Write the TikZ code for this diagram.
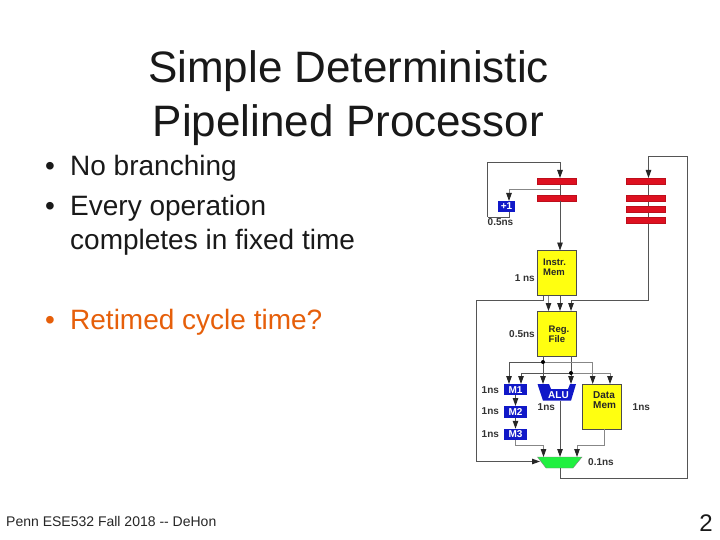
\documentclass[tikz,border=0pt]{standalone}
\usepackage{fontspec}
\setmainfont{Liberation Sans}
\usetikzlibrary{arrows.meta,calc}
\definecolor{redbar}{RGB}{222,16,32}
\definecolor{bluebox}{RGB}{16,24,200}
\definecolor{yellowbox}{RGB}{255,255,16}
\definecolor{greenmux}{RGB}{32,240,64}
\definecolor{wire}{RGB}{85,85,85}
\definecolor{lightwire}{RGB}{135,135,135}
\definecolor{orangetext}{RGB}{230,95,10}
\tikzset{
 x=1pt,y=-1pt,
 barbox/.style={draw=redbar!85!black,line width=.4pt,fill=redbar,minimum width=39pt,minimum height=6pt,inner sep=0,outer sep=0},
 memblock/.style={draw=black!70,line width=.8pt,fill=yellowbox,minimum width=39pt,inner sep=0,outer sep=0},
 bluebx/.style={fill=bluebox,text=white,font=\fontsize{10}{11}\selectfont\bfseries,inner sep=0,outer sep=0},
 wirel/.style={wire,line width=.95pt},
 lwire/.style={lightwire,line width=.85pt},
 arr/.style={-{Triangle[length=8pt,width=5.5pt,color=black!85]}},
 tim/.style={font=\fontsize{10}{11}\selectfont\bfseries,text=black!80,inner sep=0},
 blocktxt/.style={font=\fontsize{9.5}{10}\selectfont\bfseries,align=left,inner sep=0,text=black!85},
 ttl/.style={font=\fontsize{44}{46}\selectfont,inner sep=0,text=black!90},
 bodyt/.style={font=\fontsize{28}{30}\selectfont,inner sep=0,anchor=base west,text=black!90},
 dotj/.style={circle,fill=black,inner sep=0,minimum size=4pt},
}
\begin{document}
\begin{tikzpicture}
\useasboundingbox (0,0) rectangle (720,540);
\fill[white] (0,0) rectangle (720,540);
% text
\node[ttl] (t1) at (348.5,71.5) {Simple Deterministic};
\node[ttl] (t2) at (348.5,125) {Pipelined Processor};
\node[bodyt] (b0) at (45,176) {•};
\node[bodyt] (b1) at (70,176) {No branching};
\node[bodyt] (b2) at (45,215) {•};
\node[bodyt] (b3) at (70,215) {Every operation};
\node[bodyt] (b4) at (70,249) {completes in fixed time};
\node[bodyt,text=orangetext] (b5) at (45,329) {•};
\node[bodyt,text=orangetext] (b6) at (70,329) {Retimed cycle time?};
\node[font=\fontsize{14}{16}\selectfont,anchor=base west,inner sep=0,text=black!85] (foot) at (6,526) {Penn ESE532 Fall 2018 -{}- DeHon};
\node[font=\fontsize{24}{26}\selectfont,anchor=base east,inner sep=0,text=black!90] (pg) at (713,531) {2};
% wires behind bars
\draw[wirel] (560,201) -- (560,184);
\draw[wirel] (648.5,184) -- (648.5,206);
\draw[wirel] (648.5,212) -- (648.5,300) -- (571,300);
% bars
\node[barbox] (l1) at (556.5,181) {};
\node[barbox] (l2) at (556.5,198) {};
\node[barbox] (r1) at (646,181) {};
\node[barbox] (r2) at (646,198) {};
\node[barbox] (r3) at (646,209) {};
\node[barbox] (r4) at (646,220) {};
% blocks
\node[memblock,minimum height=45pt] (imem) at (556.5,273) {};
\node[blocktxt,anchor=north west] (imt) at (543,259) {Instr.\\Mem};
\node[memblock,minimum height=45pt] (reg) at (556.5,333.5) {};
\node[blocktxt,anchor=north west] (rgt) at (548.5,326) {Reg.\\File};
\node[memblock,minimum height=45pt] (dmem) at (601.5,406.5) {};
\node[blocktxt,anchor=north west,font=\fontsize{10}{10}\selectfont\bfseries] (dmt) at (593,391.5) {Data\\Mem};
\node[bluebx,minimum width=17pt,minimum height=11pt] (inc) at (506.5,206.5) {+1};
\node[bluebx,minimum width=23pt,minimum height=11.5pt] (m1) at (515.5,389.7) {M1};
\node[bluebx,minimum width=23pt,minimum height=12pt] (m2) at (515.5,412) {M2};
\node[bluebx,minimum width=23pt,minimum height=11.5pt] (m3) at (515.5,434.5) {M3};
\fill[bluebox] (537.5,384) -- (549,384) -- (551,389) -- (568,389) -- (570,384) -- (576,384) -- (571,400.7) -- (543,400.7) -- cycle;
\node[bluebx,fill=none] (alut) at (558.5,395.5) {ALU};
\coordinate (alub) at (560,400.7);
\fill[greenmux,draw=black!50,line width=.4pt] (537.5,457) -- (582,457) -- (573,468) -- (546,468) -- cycle;
\coordinate (muxt) at (560,457);
\coordinate (muxb) at (560,468);
\coordinate (muxl) at (540,461.5);
% wires
\draw[wirel,arr] (560,201) -- (560,250.5);
\draw[wirel,arr] (487.5,217) -- (487.5,162) -- (560,162) -- (560,178);
\draw[wirel] (487.5,217) -- (509,217) -- (509,212);
\draw[lwire,arr] (560,189) -- (509,189) -- (509,201);
\draw[wirel,arr] (687.5,300) -- (687.5,156) -- (648.5,156) -- (648.5,178);
\draw[wirel] (muxb) -- (560,478.5) -- (687.5,478.5) -- (687.5,300);
\draw[wirel,arr] (543,295.5) -- (543,300) -- (476.5,300) -- (476.5,461.5) -- (muxl);
\draw[lwire,arr] (548.5,295.5) -- (548.5,311);
\draw[wirel,arr] (560,295.5) -- (560,311);
\draw[wirel,arr] (571,300) -- (571,311);
\draw[wirel] (543,356) -- (543,362);
\draw[wirel] (571,356) -- (571,373);
\draw[wirel,arr] (543,362) -- (509,362) -- (509,384);
\draw[lwire,arr] (543,362) -- (592.7,362) -- (592.7,384);
\draw[wirel,arr] (543,362) -- (543,384);
\draw[wirel,arr] (571,373) -- (521,373) -- (521,384);
\draw[lwire,arr] (571,373) -- (610,373) -- (610,384);
\draw[wirel,arr] (571,373) -- (571,384);
\node[dotj] (d1) at (543,362) {};
\node[dotj] (d2) at (571,373) {};
\draw[wirel,arr] (m1) -- (m2);
\draw[wirel,arr] (m2) -- (m3);
\draw[lwire,arr] (515,440) -- (515,445) -- (543.5,445) -- (543.5,457);
\draw[lwire,arr] (604,429) -- (604,445) -- (577,445) -- (577,457);
\draw[wirel,arr] (alub) -- (muxt);
% timing labels
\node[tim,anchor=west] (tt1) at (487.5,222.5) {0.5ns};
\node[tim,anchor=east] (tt2) at (535,278) {1 ns};
\node[tim,anchor=east] (tt3) at (535,334.5) {0.5ns};
\node[tim,anchor=west] (tt4) at (481.5,390) {1ns};
\node[tim,anchor=west] (tt5) at (481.5,411.5) {1ns};
\node[tim,anchor=west] (tt6) at (481.5,434) {1ns};
\node[tim,anchor=west] (tt7) at (537.5,407) {1ns};
\node[tim,anchor=west] (tt8) at (632.5,407) {1ns};
\node[tim,anchor=west] (tt9) at (588,462) {0.1ns};
\end{tikzpicture}
\end{document}
